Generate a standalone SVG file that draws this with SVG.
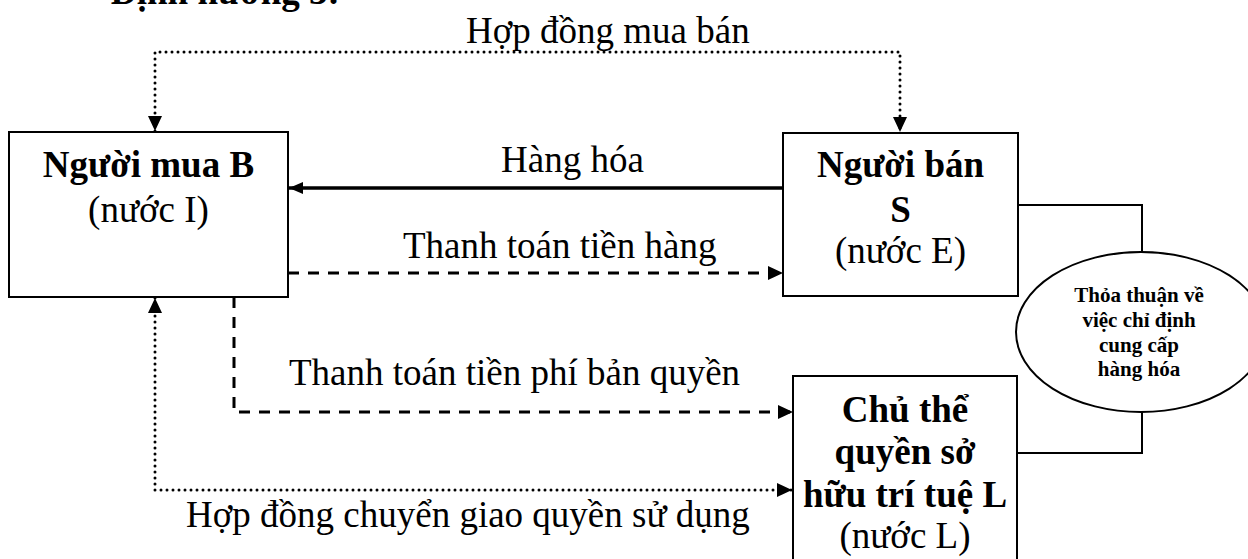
<svg xmlns="http://www.w3.org/2000/svg" width="1248" height="559" viewBox="0 0 1248 559">
<style>
text{font-family:"Liberation Serif","Times New Roman",serif;font-size:37px;fill:#000}
.b{font-weight:bold}
.c{text-anchor:middle}
.s{font-size:21px;font-weight:bold;text-anchor:middle}
.box{fill:#fff;stroke:#000;stroke-width:2}
.dot{fill:none;stroke:#000;stroke-width:3;stroke-dasharray:0 6;stroke-linecap:round}
.dash{fill:none;stroke:#000;stroke-width:3;stroke-dasharray:11 9}
.solid{fill:none;stroke:#000;stroke-width:3.5}
.thin{fill:none;stroke:#000;stroke-width:2}
</style>
<defs>
<marker id="ah" markerUnits="userSpaceOnUse" markerWidth="16" markerHeight="16" refX="15" refY="7" orient="auto-start-reverse"><path d="M0,0 L15,7 L0,14 z" fill="#000"/></marker>
<marker id="ahs" markerUnits="userSpaceOnUse" markerWidth="16" markerHeight="14" refX="14" refY="6" orient="auto"><path d="M0,0 L14,6 L0,12 z" fill="#000"/></marker>
</defs>
<rect width="1248" height="559" fill="#fff"/>
<text class="b" x="110" y="4" font-size="36">Định hướng 3:</text>
<g id="connectors">
<path class="dot" d="M155,131 V52 H900 V132" marker-start="url(#ah)" marker-end="url(#ah)"/>
<path class="solid" d="M783,188 H289" marker-end="url(#ahs)"/>
<path class="dash" d="M288,273 H783" marker-end="url(#ah)"/>
<path class="dash" d="M234,297 V412 H793" marker-end="url(#ah)"/>
<path class="dot" d="M155,298 V490 H792" marker-start="url(#ah)" marker-end="url(#ah)"/>
<path class="thin" d="M1018,205 H1142 V252"/>
<path class="thin" d="M1142,412 V453 H1017"/>
<text x="466" y="43">Hợp đồng mua bán</text>
<text x="501" y="172">Hàng hóa</text>
<text x="403" y="258">Thanh toán tiền hàng</text>
<text x="289" y="385">Thanh toán tiền phí bản quyền</text>
<text x="186" y="527">Hợp đồng chuyển giao quyền sử dụng</text>
</g>
<g id="buyer">
<rect class="box" x="9" y="132" width="279" height="165"/>
<text class="b c" x="148.5" y="177">Người mua B</text>
<text class="c" x="148.5" y="222">(nước I)</text>
</g>
<g id="seller">
<rect class="box" x="783" y="133" width="235" height="163"/>
<text class="b c" x="900.5" y="177">Người bán</text>
<text class="b c" x="900.5" y="222">S</text>
<text class="c" x="900.5" y="263">(nước E)</text>
</g>
<g id="licensor">
<rect class="box" x="793" y="376" width="224" height="200"/>
<text class="b c" x="905" y="422">Chủ thể</text>
<text class="b c" x="905" y="464">quyền sở</text>
<text class="b c" x="905" y="507">hữu trí tuệ L</text>
<text class="c" x="905" y="548">(nước L)</text>
</g>
<g id="agreement">
<ellipse cx="1141" cy="332" rx="125" ry="80" fill="#fff" stroke="#000" stroke-width="2"/>
<text class="s" x="1139" y="302">Thỏa thuận về</text>
<text class="s" x="1139" y="327">việc chỉ định</text>
<text class="s" x="1139" y="352">cung cấp</text>
<text class="s" x="1139" y="376">hàng hóa</text>
</g>
</svg>
